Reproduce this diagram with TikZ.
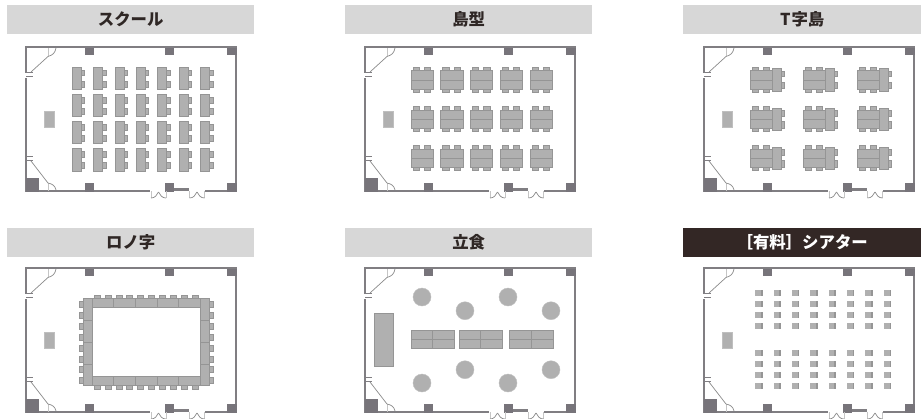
\documentclass[tikz,border=0pt]{standalone}
\usepackage{fontspec}
\setmainfont{Noto Sans CJK JP}
\definecolor{hdr}{HTML}{D7D7D7}
\definecolor{hdrdark}{HTML}{332725}
\definecolor{ink}{HTML}{2F2725}
\definecolor{wallc}{HTML}{807E82}
\definecolor{pillar}{HTML}{77747A}
\definecolor{tablec}{HTML}{B0B0B0}
\definecolor{tableedge}{HTML}{959595}
\definecolor{doorc}{HTML}{8A8A8A}
\tikzset{
  hdrbox/.style={fill=hdr,draw=none,minimum width=#1,minimum height=29pt,inner sep=0pt,text=ink,font=\bfseries\fontsize{16.4}{17}\selectfont},
  wallline/.style={draw=wallc,line width=2.1pt},
  pillarbox/.style={fill=pillar,draw=none},
  desk/.style={fill=tablec,draw=tableedge,line width=0.6pt},
  plain/.style={fill=tablec,draw=none},
  doorline/.style={draw=doorc,line width=0.7pt},
  doorlight/.style={draw=hdr!80!gray,line width=0.6pt},
  bar/.style={draw=wallc,line width=1.1pt},
}
\newcommand{\roomshell}{%
  \draw[wallline,line join=miter] (150,191) -- (26.4,191) -- (26.4,47) -- (235.7,47) -- (235.7,191) -- (204.7,191);
  \draw[wallline] (174,189.5) -- (189.3,189.5);
  \foreach \a/\b in {85/94,165/174,227/236.6}{\fill[pillarbox] (\a,47.5) rectangle (\b,55);}
  \fill[pillarbox] (25.5,178) rectangle (39,192);
  \foreach \a/\b in {85/94,165/174,227/236.6}{\fill[pillarbox] (\a,183) rectangle (\b,192);}
  % upper left door
  \fill[white] (25,73) rectangle (28,78);
  \draw[bar] (26,72.6) -- (33,72.6); \draw[bar] (26,76.2) -- (33,76.2);
  \draw[doorlight] (48,48) -- (48,56);
  \draw[doorline] (31,72) -- (48,56.5) .. controls (53,55) and (55,53) .. (56,48);
  % lower left door
  \draw[bar] (26,156.6) -- (33,156.6); \draw[bar] (26,160.2) -- (33,160.2);
  \draw[doorlight] (48,183) -- (48,191);
  \draw[doorline] (31,161) -- (48,183) .. controls (53,184) and (55,186) .. (56,190);
  % entrance doors
  \foreach \d in {151,189.5}{
    \draw[doorlight] (\d,191) -- (\d,198);
    \draw[doorlight] (\d+15,191) -- (\d+15,198);
    \draw[doorline] (\d,198) .. controls (\d+4,198) and (\d+6,195) .. (\d+7.5,192);
    \draw[doorline] (\d+15,198) .. controls (\d+11,198) and (\d+9,195) .. (\d+7.5,192);
  }
}
\newcommand{\podium}{\fill[plain,draw=tableedge!60!white,line width=0.4pt] (44.4,111) rectangle (53.7,127);}
\begin{document}
\begin{tikzpicture}[x=1pt,y=-1pt]
\useasboundingbox (0,0) rectangle (921,418);
\fill[white] (0,0) rectangle (921,418);
% headers
\node[hdrbox=247pt,anchor=north west] (h1) at (7,5) {スクール};
\node[hdrbox=247pt,anchor=north west] (h2) at (345,5) {島型};
\node[hdrbox=238pt,anchor=north west] (h3) at (683,5) {T\kern1pt 字島};
\node[hdrbox=247pt,anchor=north west] (h4) at (7,228) {ロノ字};
\node[hdrbox=247pt,anchor=north west] (h5) at (345,228) {立食};
\node[hdrbox=238pt,anchor=north west,fill=hdrdark,text=white] (h6) at (683,228) {［有料］シアター};
% 1 school
\begin{scope}
  \roomshell\podium
  \foreach \x in {72,93.4,114.9,136.3,157.7,179.1,200.4}{
    \foreach \y in {67,94.3,121.5,148.7}{
      \draw[desk] (\x+9,\y+3) rectangle ++(3.4,5.6);
      \draw[desk] (\x+9,\y+14) rectangle ++(3.4,6);
      \draw[desk] (\x,\y) rectangle ++(9,22.2);
    }
  }
\end{scope}
% 2 island
\begin{scope}[shift={(339,0)}]
  \roomshell\podium
  \foreach \x in {72,101.7,131.3,161,191}{
    \foreach \y in {70.7,110,149}{
      \foreach \c in {2,13.3}{
        \draw[desk] (\x+\c,\y-3.4) rectangle ++(6.3,3.4);
        \draw[desk] (\x+\c,\y+18.3) rectangle ++(6.3,3.4);
      }
      \draw[desk] (\x,\y) rectangle ++(22.3,18.3);
      \draw[desk] (\x,\y+9.1) -- ++(22.3,0);
    }
  }
\end{scope}
% 3 T
\begin{scope}[shift={(678,0)}]
  \roomshell\podium
  \foreach \x in {72,125,179}{
    \foreach \y in {70.7,110,149}{
      \foreach \c in {2,13.3}{
        \draw[desk] (\x+\c,\y-3.4) rectangle ++(6.3,3.4);
        \draw[desk] (\x+\c,\y+18.3) rectangle ++(6.3,3.4);
      }
      \draw[desk] (\x,\y) rectangle ++(22,18.3);
      \draw[desk] (\x,\y+9.1) -- ++(22,0);
      \draw[desk] (\x+31.3,\y+0.3) rectangle ++(3.4,5.7);
      \draw[desk] (\x+31.3,\y+11.7) rectangle ++(3.4,6.3);
      \draw[desk] (\x+22,\y-2) rectangle ++(9.3,22.3);
    }
  }
\end{scope}
% 4 hollow square
\begin{scope}[shift={(0,221)}]
  \roomshell\podium
  \foreach \i in {0,...,9}{
    \draw[desk] (94+10.9*\i,74.3) rectangle ++(6,3.4);
    \draw[desk] (94+10.9*\i,164.7) rectangle ++(6,3.4);
  }
  \foreach \i in {0,...,7}{
    \draw[desk] (79.4,80.3+10.9*\i) rectangle ++(3.9,6);
    \draw[desk] (209.3,80.3+10.9*\i) rectangle ++(3.9,6);
  }
  \draw[desk] (92.3,77.7) rectangle (200.3,86.7);
  \draw[desk] (92.3,155.7) rectangle (200.3,164.7);
  \foreach \x in {113.3,135.3,157.3,178.7}{
    \draw[desk] (\x,77.7) -- (\x,86.7);
    \draw[desk] (\x,155.7) -- (\x,164.7);
  }
  \draw[desk] (83.3,77.7) rectangle (92.3,164.7);
  \draw[desk] (200.3,77.7) rectangle (209.3,164.7);
  \foreach \y in {99.4,121.4,143.4}{
    \draw[desk] (83.3,\y) -- (92.3,\y);
    \draw[desk] (200.3,\y) -- (209.3,\y);
  }
\end{scope}
% 5 standing
\begin{scope}[shift={(339,221)}]
  \roomshell
  \foreach \x/\y in {83/76,126/89.7,169/76,212/89.7,83/162,126/148.7,169/162,212/148.7}{
    \fill[plain,draw=tableedge!60!white,line width=0.4pt] (\x,\y) circle[radius=9];
  }
  \draw[desk] (35.3,92) rectangle (54.3,145.7);
  \foreach \a/\m/\b in {72/93.7/115.7,120/141.3/163.7,170.7/192.3/214.7}{
    \draw[desk] (\a,109.7) rectangle (\b,127.7);
    \draw[desk] (\a,118.3) -- (\b,118.3);
    \draw[desk] (\m,109.7) -- (\m,127.7);
  }
\end{scope}
% 6 theater
\begin{scope}[shift={(678,221)}]
  \roomshell\podium
  \foreach \x in {77.3,95.7,114,132.3,150.7,169,187.3,206}{
    \foreach \y in {69,80,91,102,129,140,151,162}{
      \fill[plain] (\x,\y) rectangle ++(7.2,6);
      \fill[tableedge] (\x+5.6,\y) rectangle ++(1.6,6);
    }
  }
\end{scope}
\end{tikzpicture}
\end{document}
